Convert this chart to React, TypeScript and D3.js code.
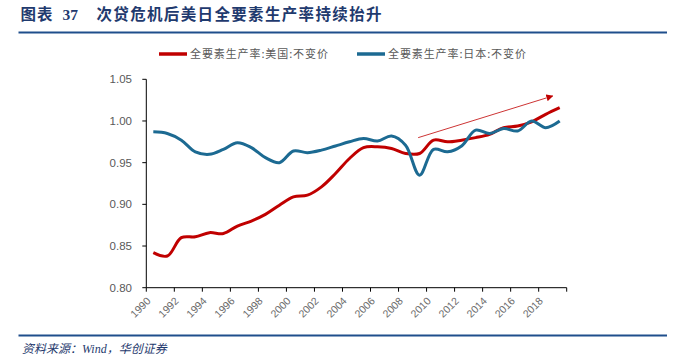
import React from "react";
import * as d3 from "d3";

const years = d3.range(1990, 2020);
const usTfp = [0.842, 0.838, 0.860, 0.861, 0.866, 0.865, 0.874, 0.880, 0.888, 0.899,
  0.909, 0.911, 0.921, 0.937, 0.955, 0.968, 0.969, 0.967, 0.961, 0.961,
  0.977, 0.975, 0.977, 0.980, 0.984, 0.992, 0.994, 0.999, 1.008, 1.016];
const jpTfp = [0.987, 0.985, 0.977, 0.963, 0.960, 0.966, 0.974, 0.968, 0.956, 0.950,
  0.964, 0.962, 0.965, 0.970, 0.975, 0.979, 0.976, 0.982, 0.971, 0.935,
  0.966, 0.963, 0.970, 0.989, 0.985, 0.991, 0.988, 1.000, 0.992, 1.000];
const yTicks = [0.80, 0.85, 0.90, 0.95, 1.00, 1.05];
const xTicks = d3.range(1990, 2019, 2);
const arrowFrom = [2009.4, 0.980];
const arrowTo = [2019.0, 1.030];
const seriesNames = ["全要素生产率:美国:不变价", "全要素生产率:日本:不变价"];

export default function App() {
  const W = 677, H = 359;
  const x = d3.scaleLinear().domain([1990, 2020]).range([146.3, 566.7]);
  const y = d3.scaleLinear().domain([0.80, 1.05]).range([287.7, 79.3]);
  const line = d3.line<number>()
    .x((_, i) => x(years[i] + 0.5))
    .y((d) => y(d))
    .curve(d3.curveCatmullRom.alpha(0.5));
  const red = "#C00000";
  const blue = "#1C6A92";
  const grey = "#595959";
  const numFont = "'Liberation Sans', Arial, sans-serif";
  const cjk = "'Noto Sans CJK SC', sans-serif";
  return (
    <svg width={W} height={H} style={{ position: "absolute", left: 0, top: 0 }}>
      <defs>
        <marker id="ah" viewBox="0 0 10 10" refX="9" refY="5" markerWidth="7" markerHeight="7" orient="auto" markerUnits="userSpaceOnUse">
          <path d="M0,0 L10,5 L0,10 z" fill={red} />
        </marker>
      </defs>
      <rect width={W} height={H} fill="#fff" />
      <g fontFamily={"'Liberation Serif', " + cjk} fontWeight="bold" fontSize={15.5} fill="#1F3A6E">
        <text x={20.5} y={20} textLength={32} lengthAdjust="spacing">图表</text>
        <text x={62.5} y={20}>37</text>
        <text x={96.5} y={20} textLength={285} lengthAdjust="spacing">次贷危机后美日全要素生产率持续抬升</text>
      </g>
      <line x1={18.5} x2={667} y1={32.5} y2={32.5} stroke="#1F4E8C" strokeWidth={2} />
      {/* legend */}
      <line x1={159} x2={187} y1={54} y2={54} stroke={red} strokeWidth={3.5} />
      <text x={190} y={58} fontFamily={cjk} fontSize={11} fill={grey} letterSpacing={0.9}>{seriesNames[0]}</text>
      <line x1={357} x2={385} y1={54} y2={54} stroke={blue} strokeWidth={3.5} />
      <text x={388} y={58} fontFamily={cjk} fontSize={11} fill={grey} letterSpacing={0.9}>{seriesNames[1]}</text>
      {/* y axis */}
      <line x1={x(1990)} x2={x(1990)} y1={y(1.05)} y2={y(0.80)} stroke="#000" strokeWidth={1} />
      {yTicks.map((t) => (
        <g key={t}>
          <line x1={x(1990) - 4} x2={x(1990)} y1={y(t)} y2={y(t)} stroke="#000" />
          <text x={132} y={y(t) + 4} textAnchor="end" fontFamily={numFont} fontSize={11.5} fill={grey}>{t.toFixed(2)}</text>
        </g>
      ))}
      {/* x axis */}
      <line x1={x(1990)} x2={x(2020)} y1={y(0.80)} y2={y(0.80)} stroke="#000" strokeWidth={1} />
      {d3.range(1990, 2021, 2).map((t) => (
        <line key={t} x1={x(t)} x2={x(t)} y1={y(0.80)} y2={y(0.80) + 4} stroke="#000" />
      ))}
      {xTicks.map((t) => (
        <text key={t} transform={`translate(${x(t) + 5},${y(0.80) + 14}) rotate(-45)`} textAnchor="end" fontFamily={numFont} fontSize={10.5} fill="#6b6b6b">{t}</text>
      ))}
      <path d={line(usTfp) || ""} fill="none" stroke={red} strokeWidth={3} />
      <path d={line(jpTfp) || ""} fill="none" stroke={blue} strokeWidth={3} />
      <line x1={x(arrowFrom[0])} y1={y(arrowFrom[1])} x2={x(arrowTo[0])} y2={y(arrowTo[1])} stroke={red} strokeWidth={0.8} markerEnd="url(#ah)" />
      <line x1={18.5} x2={667} y1={335.5} y2={335.5} stroke="#1F4E8C" strokeWidth={2} />
      <text x={22} y={353} fontFamily={"'Liberation Serif', " + cjk} fontStyle="italic" fontSize={12} fill="#1F3A6E">资料来源：Wind，华创证券</text>
    </svg>
  );
}
